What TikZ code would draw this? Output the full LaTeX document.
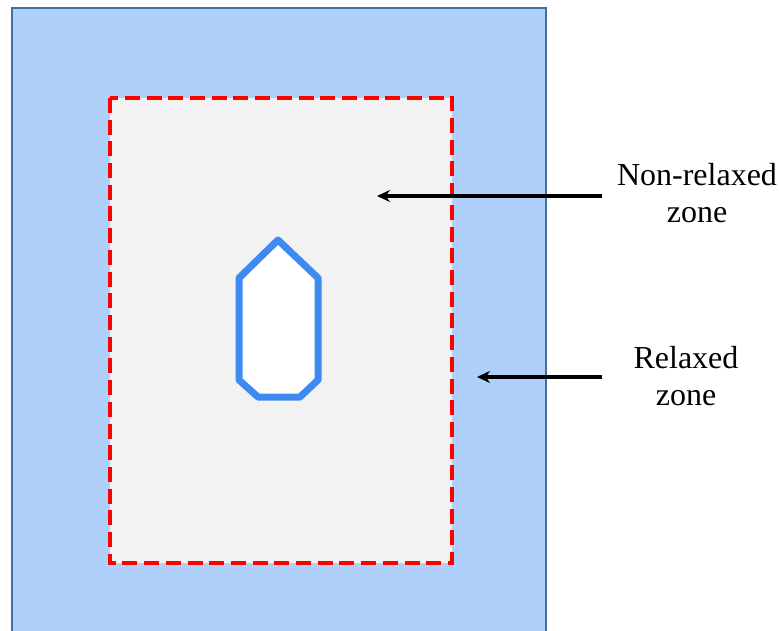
\documentclass[tikz,border=0pt]{standalone}
\usepackage{fontspec}
\setmainfont{Liberation Serif}
\usetikzlibrary{arrows.meta}

\definecolor{seablue}{RGB}{175,208,250}
\definecolor{seaedge}{RGB}{65,113,156}
\definecolor{zonegray}{RGB}{242,242,242}
\definecolor{zonered}{RGB}{255,0,0}
\definecolor{hullblue}{RGB}{61,139,240}

\tikzset{
  seabox/.style={fill=seablue, draw=seaedge, line width=1.5pt},
  zonebox/.style={fill=zonegray, draw=zonered, line width=4.8pt,
    dash pattern=on 15pt off 6.7pt},
  hull/.style={fill=white, draw=hullblue, line width=7pt, line join=round},
  pointer/.style={-{Stealth[length=13pt,width=12pt]}, line width=3.2pt, black},
  label/.style={align=center, inner sep=0pt,
    font=\fontsize{32}{37}\selectfont}
}

\begin{document}
\begin{tikzpicture}[x=1pt,y=-1pt]
  \clip (0,0) rectangle (779,631);

  % water area
  \draw[seabox] (12,8) rectangle (546,650);

  % non-relaxed zone boundary
  \draw[zonebox] (110,98) rectangle (452,563);

  % ship hull outline
  \draw[hull] (278,240) -- (318,278) -- (318,380) -- (300,397)
    -- (258,397) -- (239,380) -- (239,278) -- cycle;

  % labels
  \node[label] (nonrelaxed) at (697,193) {Non-relaxed\\zone};
  \node[label] (relaxed) at (686,376) {Relaxed\\zone};

  % pointers
  \coordinate (nrstart) at (602,196);
  \coordinate (nrend) at (377,196);
  \coordinate (rstart) at (602,377);
  \coordinate (rend) at (477,377);
  \draw[pointer] (nrstart) -- (nrend);
  \draw[pointer] (rstart) -- (rend);
\end{tikzpicture}
\end{document}
